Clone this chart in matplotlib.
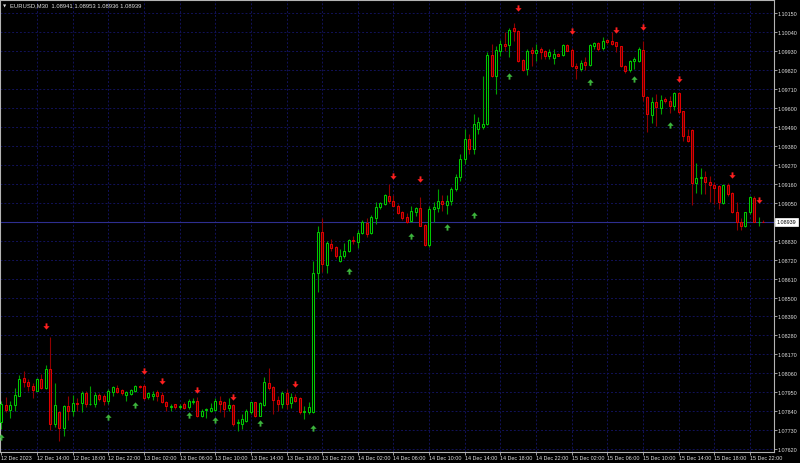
import matplotlib
matplotlib.use('Agg')
import matplotlib.pyplot as plt
from matplotlib.patches import Rectangle
from matplotlib.path import Path

# EURUSD M30 bars, 12 Dec 2023 10:00 -> 15 Dec 2023 23:30
SYMBOL = 'EURUSD,M30'

opens = [1.07777, 1.07876, 1.07848, 1.07876, 1.07930, 1.08031, 1.08011, 1.07988, 1.07959, 1.08027,
         1.07974, 1.08085, 1.07765, 1.07837, 1.07740, 1.07872, 1.07839, 1.07889, 1.07887, 1.07945,
         1.07881, 1.07881, 1.07935, 1.07926, 1.07901, 1.07953, 1.07974, 1.07963, 1.07934, 1.07940,
         1.07955, 1.07988, 1.07988, 1.07920, 1.07930, 1.07949, 1.07934, 1.07891, 1.07862, 1.07880,
         1.07866, 1.07881, 1.07862, 1.07895, 1.07897, 1.07810, 1.07848, 1.07843, 1.07848, 1.07901,
         1.07895, 1.07856, 1.07876, 1.07771, 1.07765, 1.07784, 1.07833, 1.07891, 1.07813, 1.07877,
         1.08003, 1.07978, 1.07906, 1.07881, 1.07945, 1.07887, 1.07920, 1.07915, 1.07837, 1.07833,
         1.07833, 1.08641, 1.08879, 1.08691, 1.08811, 1.08792, 1.08711, 1.08740, 1.08769, 1.08834,
         1.08824, 1.08875, 1.08933, 1.08873, 1.08962, 1.09024, 1.09043, 1.09092, 1.09059, 1.09034,
         1.08999, 1.08966, 1.08946, 1.08999, 1.09018, 1.08921, 1.08807, 1.09014, 1.09018, 1.09063,
         1.09038, 1.09063, 1.09131, 1.09200, 1.09305, 1.09421, 1.09363, 1.09479, 1.09491, 1.09508,
         1.09909, 1.09789, 1.09934, 1.09973, 1.09967, 1.10064, 1.10050, 1.09880, 1.09828, 1.09938,
         1.09921, 1.09944, 1.09934, 1.09902, 1.09890, 1.09915, 1.09909, 1.09967, 1.09940, 1.09847,
         1.09828, 1.09867, 1.09851, 1.09963, 1.09979, 1.09948, 1.09998, 1.09992, 1.09983, 1.09960,
         1.09847, 1.09824, 1.09876, 1.09876, 1.09940, 1.09663, 1.09561, 1.09634, 1.09599, 1.09654,
         1.09644, 1.09611, 1.09688, 1.09582, 1.09437, 1.09475, 1.09165, 1.09193, 1.09199, 1.09170,
         1.09154, 1.09146, 1.09049, 1.09154, 1.09107, 1.08999, 1.08937, 1.08917, 1.08995, 1.09077,
         1.08940, 1.08941]
highs = [1.07899, 1.07920, 1.07899, 1.07974, 1.08050, 1.08071, 1.08027, 1.08003, 1.08031, 1.08056,
         1.08108, 1.08269, 1.08003, 1.07843, 1.07876, 1.07926, 1.07934, 1.07915, 1.07959, 1.07955,
         1.07988, 1.07953, 1.07945, 1.07940, 1.07969, 1.07988, 1.07992, 1.07969, 1.07959, 1.07969,
         1.07992, 1.07992, 1.07998, 1.07949, 1.07955, 1.07963, 1.07949, 1.07901, 1.07881, 1.07881,
         1.07881, 1.07895, 1.07911, 1.07915, 1.07920, 1.07852, 1.07858, 1.07887, 1.07916, 1.07926,
         1.07901, 1.07916, 1.07881, 1.07794, 1.07823, 1.07852, 1.07895, 1.07895, 1.07895, 1.08037,
         1.08091, 1.07988, 1.07930, 1.07959, 1.07969, 1.07945, 1.07940, 1.07920, 1.07872, 1.07895,
         1.08714, 1.08914, 1.08962, 1.08830, 1.08840, 1.08798, 1.08782, 1.08817, 1.08840, 1.08856,
         1.08892, 1.08950, 1.08960, 1.08980, 1.09053, 1.09057, 1.09102, 1.09158, 1.09096, 1.09043,
         1.09004, 1.08991, 1.09034, 1.09024, 1.09082, 1.08927, 1.09030, 1.09053, 1.09131, 1.09096,
         1.09096, 1.09140, 1.09218, 1.09334, 1.09479, 1.09450, 1.09566, 1.09549, 1.09787, 1.09927,
         1.09973, 1.09963, 1.09998, 1.10041, 1.10064, 1.10095, 1.10056, 1.09886, 1.09944, 1.09954,
         1.09973, 1.09954, 1.09940, 1.09944, 1.09944, 1.09921, 1.09973, 1.09973, 1.09948, 1.09863,
         1.09882, 1.09896, 1.09973, 1.09986, 1.09986, 1.10012, 1.10002, 1.10041, 1.09986, 1.09963,
         1.09851, 1.09882, 1.09896, 1.09954, 1.09992, 1.09673, 1.09663, 1.09683, 1.09677, 1.09663,
         1.09673, 1.09696, 1.09696, 1.09586, 1.09479, 1.09479, 1.09282, 1.09251, 1.09237, 1.09208,
         1.09170, 1.09154, 1.09160, 1.09165, 1.09111, 1.09057, 1.08960, 1.08999, 1.09088, 1.09092,
         1.08966, 1.08953]
lows = [1.07736, 1.07833, 1.07802, 1.07843, 1.07928, 1.07978, 1.07959, 1.07915, 1.07955, 1.07969,
        1.07969, 1.07732, 1.07746, 1.07668, 1.07694, 1.07790, 1.07810, 1.07843, 1.07837, 1.07862,
        1.07876, 1.07862, 1.07901, 1.07876, 1.07881, 1.07926, 1.07945, 1.07934, 1.07901, 1.07934,
        1.07949, 1.07974, 1.07906, 1.07911, 1.07906, 1.07901, 1.07887, 1.07843, 1.07843, 1.07852,
        1.07852, 1.07852, 1.07852, 1.07881, 1.07804, 1.07804, 1.07798, 1.07837, 1.07843, 1.07833,
        1.07804, 1.07843, 1.07755, 1.07726, 1.07736, 1.07779, 1.07823, 1.07804, 1.07810, 1.07872,
        1.07965, 1.07823, 1.07843, 1.07856, 1.07852, 1.07856, 1.07891, 1.07823, 1.07794, 1.07823,
        1.07829, 1.08534, 1.08647, 1.08643, 1.08772, 1.08728, 1.08705, 1.08728, 1.08763, 1.08811,
        1.08788, 1.08869, 1.08850, 1.08869, 1.08927, 1.09014, 1.09038, 1.09049, 1.09030, 1.08985,
        1.08952, 1.08933, 1.08941, 1.08972, 1.08914, 1.08801, 1.08795, 1.08937, 1.08999, 1.09004,
        1.08985, 1.09038, 1.09119, 1.09177, 1.09276, 1.09334, 1.09334, 1.09450, 1.09479, 1.09502,
        1.09781, 1.09683, 1.09905, 1.09934, 1.09896, 1.09992, 1.09870, 1.09818, 1.09793, 1.09847,
        1.09876, 1.09886, 1.09886, 1.09886, 1.09857, 1.09902, 1.09902, 1.09931, 1.09841, 1.09770,
        1.09818, 1.09824, 1.09847, 1.09944, 1.09934, 1.09940, 1.09973, 1.09967, 1.09928, 1.09838,
        1.09805, 1.09812, 1.09828, 1.09870, 1.09644, 1.09464, 1.09514, 1.09498, 1.09566, 1.09630,
        1.09572, 1.09591, 1.09566, 1.09411, 1.09402, 1.09038, 1.09107, 1.09102, 1.09102, 1.09057,
        1.09043, 1.09014, 1.09043, 1.09092, 1.08991, 1.08894, 1.08894, 1.08908, 1.08985, 1.08937,
        1.08917, 1.08936]
closes = [1.07881, 1.07848, 1.07877, 1.07934, 1.08027, 1.08008, 1.07984, 1.07963, 1.08027, 1.07974,
          1.08085, 1.07765, 1.07876, 1.07740, 1.07872, 1.07839, 1.07887, 1.07883, 1.07945, 1.07881,
          1.07884, 1.07934, 1.07911, 1.07901, 1.07959, 1.07978, 1.07949, 1.07945, 1.07953, 1.07963,
          1.07984, 1.07978, 1.07916, 1.07944, 1.07940, 1.07930, 1.07891, 1.07868, 1.07868, 1.07862,
          1.07872, 1.07858, 1.07901, 1.07901, 1.07810, 1.07843, 1.07852, 1.07856, 1.07901, 1.07881,
          1.07852, 1.07876, 1.07765, 1.07779, 1.07794, 1.07843, 1.07891, 1.07810, 1.07887, 1.08008,
          1.07974, 1.07906, 1.07881, 1.07945, 1.07881, 1.07920, 1.07901, 1.07837, 1.07841, 1.07862,
          1.08641, 1.08879, 1.08695, 1.08817, 1.08786, 1.08743, 1.08740, 1.08769, 1.08834, 1.08827,
          1.08875, 1.08937, 1.08869, 1.08966, 1.09024, 1.09049, 1.09096, 1.09058, 1.09034, 1.08991,
          1.08960, 1.08937, 1.09004, 1.09018, 1.08917, 1.08807, 1.09014, 1.09024, 1.09063, 1.09043,
          1.09063, 1.09131, 1.09200, 1.09305, 1.09421, 1.09363, 1.09508, 1.09520, 1.09508, 1.09909,
          1.09787, 1.09938, 1.09973, 1.09963, 1.10056, 1.10050, 1.09873, 1.09824, 1.09934, 1.09921,
          1.09938, 1.09928, 1.09905, 1.09925, 1.09915, 1.09905, 1.09967, 1.09934, 1.09843, 1.09834,
          1.09863, 1.09851, 1.09967, 1.09979, 1.09944, 1.09992, 1.09986, 1.09973, 1.09960, 1.09843,
          1.09818, 1.09876, 1.09886, 1.09944, 1.09673, 1.09566, 1.09634, 1.09605, 1.09649, 1.09644,
          1.09611, 1.09688, 1.09576, 1.09437, 1.09411, 1.09165, 1.09195, 1.09199, 1.09170, 1.09154,
          1.09135, 1.09053, 1.09154, 1.09102, 1.08995, 1.08937, 1.08917, 1.08995, 1.09082, 1.08941,
          1.08941, 1.08939]

# signal arrows (bar index, price)
down_bars = [10, 32, 36, 44, 52, 66, 88, 94, 116, 128, 138, 144, 152, 164, 170]
down_prices = [1.08336, 1.08075, 1.08013, 1.07965, 1.07920, 1.07998, 1.09208, 1.09189, 1.10180,
               1.10050, 1.10056, 1.10070, 1.09770, 1.09212, 1.09068]
up_bars = [0, 24, 30, 42, 48, 58, 70, 78, 92, 100, 106, 114, 132, 142, 150]
up_prices = [1.07688, 1.07808, 1.07876, 1.07818, 1.07790, 1.07769, 1.07740, 1.08656, 1.08856,
             1.08908, 1.08980, 1.09785, 1.09750, 1.09770, 1.09502]

price_ticks = [1.07620, 1.07730, 1.07840, 1.07950, 1.08060, 1.08170, 1.08280, 1.08390, 1.08500,
               1.08610, 1.08720, 1.08830, 1.08940, 1.09050, 1.09160, 1.09270, 1.09380, 1.09490,
               1.09600, 1.09710, 1.09820, 1.09930, 1.10040, 1.10150]
time_labels = ['12 Dec 2023', '12 Dec 14:00', '12 Dec 18:00', '12 Dec 22:00', '13 Dec 02:00',
               '13 Dec 06:00', '13 Dec 10:00', '13 Dec 14:00', '13 Dec 18:00', '13 Dec 22:00',
               '14 Dec 02:00', '14 Dec 06:00', '14 Dec 10:00', '14 Dec 14:00', '14 Dec 18:00',
               '14 Dec 22:00', '15 Dec 02:00', '15 Dec 06:00', '15 Dec 10:00', '15 Dec 14:00',
               '15 Dec 18:00', '15 Dec 22:00']

BULL = '#00c800'
BULL_WICK = '#00a000'
BEAR = '#e00000'
BEAR_FILL = '#500000'
BEAR_WICK = '#900000'
GRID = '#12125a'
FRAME = '#b4b4b4'
TXT = '#e0e0e0'
FONT = ['Liberation Sans', 'DejaVu Sans']
FS = 3.9

n = len(closes)
last = closes[-1]

fig = plt.figure(figsize=(8, 4.64), dpi=100, facecolor='black')
ax = fig.add_axes([0.0, 11 / 464, 774 / 800, 452 / 464], facecolor='black')
ax.set_xlim(-0.31, 173.4)
ax.set_ylim(1.076026, 1.102284)

# grid
label_pos = [0] + list(range(8, n, 8))
for p in price_ticks:
    ax.axhline(p, color=GRID, lw=0.7, ls=(0, (2, 2)), zorder=0)
for x in label_pos[1:]:
    ax.axvline(x, color=GRID, lw=0.7, ls=(0, (2, 2)), zorder=0)

# bid line
ax.axhline(last, color='#2e2e90', lw=0.8, zorder=1)

# candles
bw = 0.45
for i in range(n):
    o, h, l, c = opens[i], highs[i], lows[i], closes[i]
    if c >= o:
        ax.vlines(i, l, h, color=BULL_WICK, lw=0.8, zorder=2)
        ax.add_patch(Rectangle((i - bw / 2, o), bw, max(c - o, 0.000005), facecolor='black',
                               edgecolor=BULL, lw=0.75, zorder=3))
    else:
        ax.vlines(i, l, h, color=BEAR_WICK, lw=0.8, zorder=2)
        ax.add_patch(Rectangle((i - bw / 2, c), bw, o - c, facecolor=BEAR_FILL,
                               edgecolor=BEAR, lw=0.75, zorder=3))

# arrows
down_arrow = Path([(-0.3, 1), (0.3, 1), (0.3, 0.1), (1, 0.1), (0, -1), (-1, 0.1), (-0.3, 0.1), (-0.3, 1)],
                  [Path.MOVETO] + [Path.LINETO] * 6 + [Path.CLOSEPOLY])
up_arrow = Path([(-0.3, -1), (0.3, -1), (0.3, -0.1), (1, -0.1), (0, 1), (-1, -0.1), (-0.3, -0.1), (-0.3, -1)],
                [Path.MOVETO] + [Path.LINETO] * 6 + [Path.CLOSEPOLY])
ax.plot(down_bars, down_prices, ls='none', marker=down_arrow, ms=4.5, color='#ff2020', mew=0, zorder=4)
ax.plot(up_bars, up_prices, ls='none', marker=up_arrow, ms=4.5, color='#3cb43c', mew=0, zorder=4)

# axes styling
for s in ax.spines.values():
    s.set_color(FRAME)
    s.set_linewidth(0.8)
ax.yaxis.tick_right()
ax.set_yticks(price_ticks)
ax.set_yticklabels([f'{p:.5f}' for p in price_ticks], family=FONT, fontsize=FS, color=TXT)
ax.tick_params(axis='y', length=2, width=0.6, color=FRAME, pad=0.6)
ax.set_xticks(label_pos)
ax.set_xticklabels(time_labels, family=FONT, fontsize=FS, color=TXT, ha='left')
ax.tick_params(axis='x', length=2, width=0.6, color=FRAME, pad=0.3)

# current price box
ax.text(1.0035, last, f'{last:.5f}', transform=ax.get_yaxis_transform(), va='center', ha='left',
        family=FONT, fontsize=FS, color='black',
        bbox=dict(boxstyle='square,pad=0.25', facecolor='white', edgecolor='white', lw=0.5), zorder=6)

# header
fig.text(10 / 800, 1 - 6 / 464, f'{SYMBOL}  {opens[-1]:.5f} {highs[-1]:.5f} {lows[-1]:.5f} {closes[-1]:.5f}',
         family=FONT, fontsize=4.2, color=TXT, va='center', ha='left')
fig.text(5 / 800, 1 - 6 / 464, '▼', family=['DejaVu Sans'], fontsize=3, color=TXT, va='center', ha='center')

fig.savefig('out.png', dpi=100, facecolor='black')
